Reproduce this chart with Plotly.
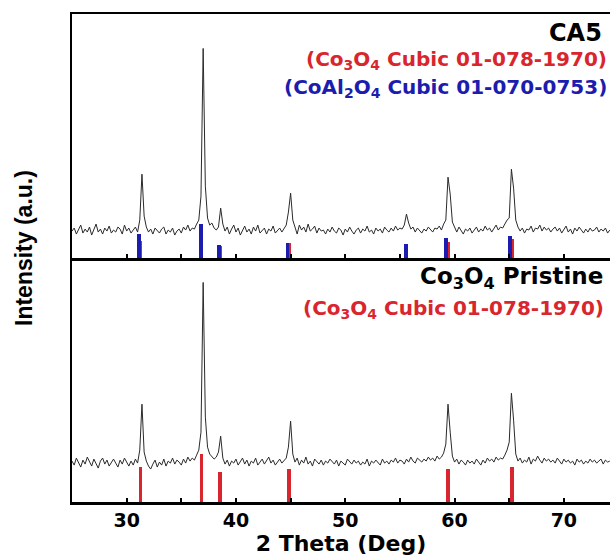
import numpy as np
import plotly.graph_objects as go

# 2-theta scan grid (deg), 0.2 deg step
two_theta = np.round(np.arange(25.0, 74.21, 0.2), 2)

# CA5 sample, intensity (a.u.)
ca5_intensity = [
    27, 30, 24, 28, 33, 25, 29, 26, 31, 23, 28, 34, 26, 29, 24, 30, 27, 32, 25, 28,
    26, 31, 29, 24, 33, 27, 30, 25, 28, 31, 26, 38, 84, 42, 31, 26, 29, 24, 30, 27,
    25, 29, 31, 24, 28, 26, 30, 23, 27, 29, 25, 31, 28, 33, 27, 30, 29, 34, 38, 62,
    210, 72, 40, 33, 35, 30, 28, 31, 50, 34, 27, 31, 24, 29, 33, 26, 30, 23, 28, 32,
    26, 29, 24, 31, 27, 33, 25, 28, 30, 24, 29, 27, 32, 25, 28, 30, 26, 29, 33, 46,
    65, 38, 30, 24, 33, 28, 31, 26, 34, 27, 29, 32, 25, 30, 27, 28, 24, 29, 26, 31,
    27, 25, 30, 28, 23, 29, 26, 31, 27, 24, 28, 30, 25, 29, 27, 32, 26, 28, 24, 30,
    27, 29, 25, 31, 28, 26, 30, 27, 32, 28, 30, 29, 33, 44, 35, 29, 31, 26, 30, 28,
    25, 29, 27, 31, 28, 26, 30, 29, 32, 28, 34, 38, 81, 64, 36, 30, 26, 31, 28, 24,
    29, 27, 30, 25, 28, 31, 26, 29, 27, 32, 28, 30, 26, 29, 33, 28, 31, 30, 34, 38,
    40, 89, 70, 38, 31, 27, 30, 25, 29, 28, 32, 26, 30, 29, 33, 27, 31, 28, 30, 26,
    29, 31, 27, 30, 25, 28, 32, 26, 29, 24, 30, 27, 31, 28, 25, 29, 26, 30, 27, 28,
    31, 26, 29, 27, 30, 25, 28,
]

# Co3O4 pristine sample, intensity (a.u.)
pristine_intensity = [
    41, 37, 44, 39, 35, 42, 38, 45, 40, 36, 43, 39, 34, 41, 44, 38, 42, 36, 40, 43,
    39, 35, 42, 38, 44, 40, 36, 41, 37, 43, 39, 52, 98, 50, 41, 36, 33, 38, 42, 35,
    40, 37, 43, 36, 41, 39, 44, 38, 42, 40, 37, 43, 39, 45, 41, 44, 42, 47, 52, 70,
    220, 85, 55, 48, 46, 43, 45, 50, 66, 44, 38, 42, 36, 41, 39, 43, 37, 40, 44, 38,
    42, 36, 41, 39, 44, 37, 40, 43, 38, 41, 45, 39, 42, 37, 40, 43, 39, 41, 44, 55,
    81, 48, 40, 44, 37, 42, 39, 45, 38, 41, 36, 43, 40, 38, 42, 37, 41, 39, 43, 40,
    38, 42, 36, 41, 39, 37, 43, 40, 38, 42, 39, 41, 37, 40, 38, 43, 36, 41, 39, 42,
    40, 37, 43, 39, 41, 38, 42, 40, 44, 39, 42, 41, 38, 43, 40, 45, 41, 39, 44, 42,
    40, 43, 41, 45, 42, 44, 41, 46, 43, 45, 49, 58, 98, 70, 46, 40, 43, 38, 42, 40,
    37, 42, 39, 41, 38, 43, 40, 37, 42, 39, 44, 41, 43, 40, 45, 42, 44, 43, 47, 52,
    60, 109, 82, 48, 41, 44, 39, 42, 40, 45, 38, 43, 41, 46, 42, 39, 44, 41, 43, 40,
    42, 39, 44, 41, 38, 43, 40, 42, 39, 41, 37, 43, 40, 42, 38, 41, 39, 43, 40, 42,
    39, 41, 43, 38, 42, 40, 41,
]

# Reference patterns (stick positions and relative heights)
co3o4_ref_pos = [31.27, 36.85, 38.55, 44.85, 59.38, 65.25]
co3o4_ref_ca5 = [17, 30, 12, 15, 16, 19]
co3o4_ref_pristine = [35, 48, 30, 33, 33, 35]
coal2o4_ref_pos = [31.15, 36.78, 38.45, 44.70, 55.55, 59.20, 65.05]
coal2o4_ref_ca5 = [24, 34, 13, 15, 14, 20, 22]

x_ticks = [30, 40, 50, 60, 70]

RED = "#d9262e"
BLUE = "#1c1caf"
LINE = "#2a2a2a"
FONT = "DejaVu Sans"

fig = go.Figure()

# bottom panel: pristine
fig.add_trace(go.Bar(x=co3o4_ref_pos, y=co3o4_ref_pristine, width=0.32,
                     marker=dict(color=RED, line=dict(width=0)),
                     xaxis="x", yaxis="y", showlegend=False))
fig.add_trace(go.Scatter(x=two_theta, y=pristine_intensity, mode="lines",
                         line=dict(color=LINE, width=1),
                         xaxis="x", yaxis="y", showlegend=False))

# top panel: CA5
fig.add_trace(go.Bar(x=co3o4_ref_pos, y=co3o4_ref_ca5, width=0.32,
                     marker=dict(color=RED, line=dict(width=0)),
                     xaxis="x2", yaxis="y2", showlegend=False))
fig.add_trace(go.Bar(x=coal2o4_ref_pos, y=coal2o4_ref_ca5, width=0.32,
                     marker=dict(color=BLUE, line=dict(width=0)),
                     xaxis="x2", yaxis="y2", showlegend=False))
fig.add_trace(go.Scatter(x=two_theta, y=ca5_intensity, mode="lines",
                         line=dict(color=LINE, width=1),
                         xaxis="x2", yaxis="y2", showlegend=False))

common_x = dict(range=[25, 74.22], showline=True, linecolor="black", linewidth=2.5,
                ticks="inside", ticklen=4, tickwidth=2, tickcolor="black",
                tickvals=x_ticks, showgrid=False, zeroline=False,
                minor=dict(dtick=5, tick0=0, ticks="inside", ticklen=4, tickwidth=2,
                           tickcolor="black", showgrid=False))
common_y = dict(range=[0, 244.5], showline=True, linecolor="black", linewidth=2.5,
                ticks="", showticklabels=False, showgrid=False, zeroline=False,
                fixedrange=True)

fig.update_layout(
    width=610, height=560,
    margin=dict(l=72, r=0, t=14, b=58),
    paper_bgcolor="white", plot_bgcolor="white",
    barmode="overlay", bargap=0,
    xaxis=dict(**common_x, anchor="y",
               tickfont=dict(family=FONT, size=19, weight="bold", color="black"),
               title=dict(text="2 Theta (Deg)", standoff=6,
                          font=dict(family=FONT, size=22, weight="bold", color="black"))),
    xaxis2=dict(**common_x, anchor="y2", matches="x", showticklabels=False, mirror=True),
    yaxis=dict(**common_y, domain=[0, 0.5]),
    yaxis2=dict(**common_y, domain=[0.5, 1]),
)

ann_font = lambda size, color: dict(family=FONT, size=size, weight="bold", color=color)
fig.add_annotation(xref="paper", yref="paper", x=1, y=0.961, xshift=-6,
                   xanchor="right", yanchor="middle", showarrow=False,
                   text="CA5", font=ann_font(24, "black"))
fig.add_annotation(xref="paper", yref="paper", x=1, y=0.905, xshift=-1,
                   xanchor="right", yanchor="middle", showarrow=False,
                   text="(Co<sub>3</sub>O<sub>4</sub> Cubic 01-078-1970)",
                   font=ann_font(20, RED))
fig.add_annotation(xref="paper", yref="paper", x=1, y=0.848, xshift=-1,
                   xanchor="right", yanchor="middle", showarrow=False,
                   text="(CoAl<sub>2</sub>O<sub>4</sub> Cubic 01-070-0753)",
                   font=ann_font(20, BLUE))
fig.add_annotation(xref="paper", yref="paper", x=1, y=0.459, xshift=-5,
                   xanchor="right", yanchor="middle", showarrow=False,
                   text="Co<sub>3</sub>O<sub>4</sub> Pristine",
                   font=ann_font(23, "black"))
fig.add_annotation(xref="paper", yref="paper", x=1, y=0.395, xshift=-4,
                   xanchor="right", yanchor="middle", showarrow=False,
                   text="(Co<sub>3</sub>O<sub>4</sub> Cubic 01-078-1970)",
                   font=ann_font(20, RED))
fig.add_annotation(xref="paper", yref="paper", x=0, y=0.5, xshift=-48, yshift=10,
                   xanchor="center", yanchor="middle", showarrow=False, textangle=-90,
                   text="Intensity (a.u.)",
                   font=dict(family="Liberation Sans", size=23, weight="bold", color="black"))

fig.write_html("out.html", config={"displayModeBar": False, "staticPlot": True})

# remove the default page margin so the 610x560 figure fills the window exactly
with open("out.html", "r", encoding="utf-8") as fh:
    html = fh.read()
html = html.replace("<head>", "<head><style>html,body{margin:0;padding:0;overflow:hidden;}</style>", 1)
with open("out.html", "w", encoding="utf-8") as fh:
    fh.write(html)
